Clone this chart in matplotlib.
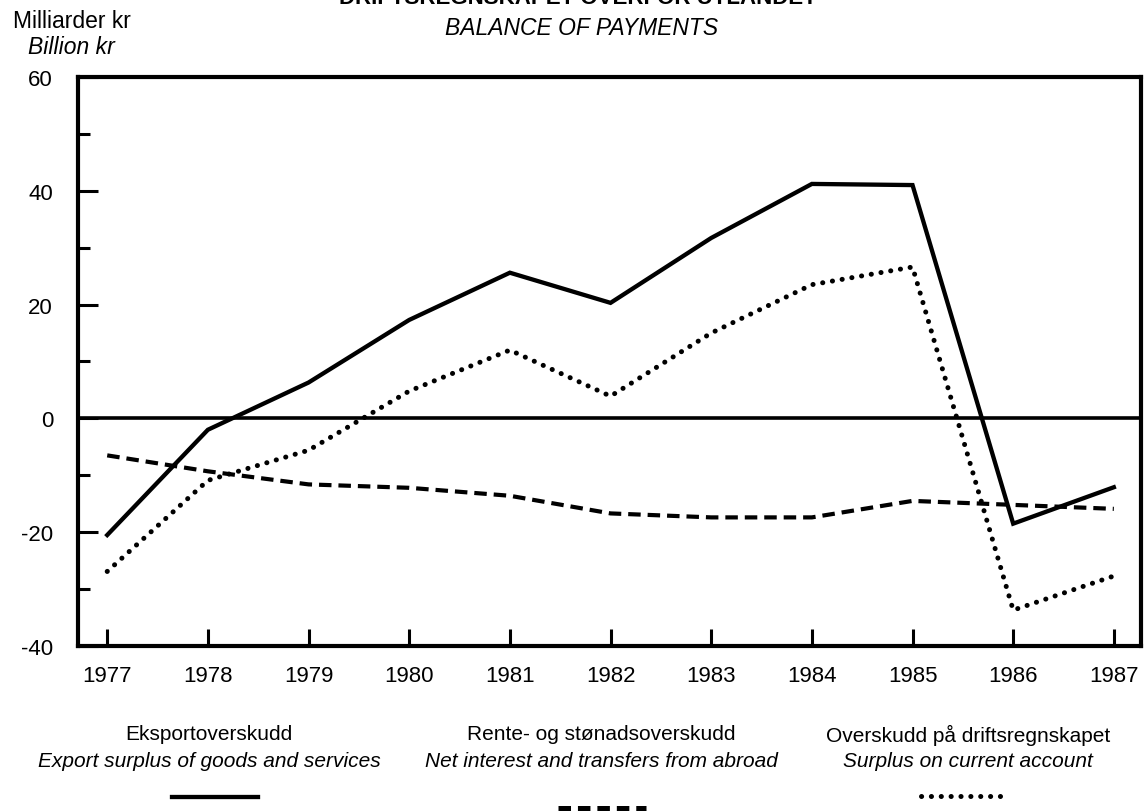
import matplotlib
matplotlib.use("Agg")
import matplotlib.pyplot as plt
from matplotlib.lines import Line2D
from matplotlib.ticker import MultipleLocator

plt.rcParams['font.family'] = ['Liberation Sans', 'DejaVu Sans']
plt.rcParams['lines.scale_dashes'] = False
plt.rcParams['axes.unicode_minus'] = False

# Data (billion NOK)
years = [1977, 1978, 1979, 1980, 1981, 1982, 1983, 1984, 1985, 1986, 1987]
export_surplus = [-20.5, -2.0, 6.3, 17.3, 25.6, 20.3, 31.7, 41.2, 41.0, -18.5, -12.1]
interest_transfers = [-6.5, -9.3, -11.6, -12.2, -13.6, -16.7, -17.4, -17.4, -14.5, -15.2, -15.9]
current_account = [-26.9, -10.9, -5.6, 4.8, 12.0, 3.9, 15.0, 23.5, 26.6, -33.7, -27.7]

legend_no = ["Eksportoverskudd", "Rente- og stønadsoverskudd", "Overskudd på driftsregnskapet"]
legend_en = ["Export surplus of goods and services", "Net interest and transfers from abroad",
             "Surplus on current account"]

fig = plt.figure(figsize=(11.44, 8.12), dpi=100)
ax = fig.add_axes([0.0682, 0.2032, 0.9292, 0.7008])

solid_style = dict(color='black', lw=3.1, solid_joinstyle='miter')
dash_style = dict(color='black', lw=3.0, linestyle=(0, (9.0, 5.0)))
dot_style = dict(color='black', lw=3.6, linestyle=(0, (0.1, 7.0)), dash_capstyle='round')

ax.axhline(0, color='black', lw=2.6, zorder=1)
ax.plot(years, export_surplus, **solid_style)
ax.plot(years, interest_transfers, **dash_style)
ax.plot(years, current_account, **dot_style)

ax.set_xlim(1976.71, 1987.27)
ax.set_ylim(-40, 60)
ax.set_xticks(years)
ax.set_yticks([-40, -20, 0, 20, 40, 60])
ax.yaxis.set_minor_locator(MultipleLocator(10))

for s in ax.spines.values():
    s.set_linewidth(3.0)

ax.tick_params(axis='x', direction='in', length=12.5, width=2.2, pad=14, labelsize=16)
ax.tick_params(axis='y', which='major', direction='in', length=14.5, width=2.2, pad=18, labelsize=16)
ax.tick_params(axis='y', which='minor', direction='in', length=8.5, width=2.2)
# no tick marks on the frame ends
for t in ax.yaxis.get_major_ticks():
    if t.get_loc() in (-40, 60):
        t.tick1line.set_visible(False)

# header texts
fig.text(0.505, 0.9945, "DRIFTSREGNSKAPET OVERFOR UTLANDET", ha='center', va='baseline',
         fontsize=16, fontweight='bold')
fig.text(0.508, 0.965, "BALANCE OF PAYMENTS", ha='center', va='center', fontsize=16.5, style='italic')
fig.text(0.0115, 0.973, "Milliarder kr", ha='left', va='center', fontsize=16.5)
fig.text(0.0245, 0.941, "Billion kr", ha='left', va='center', fontsize=16.5, style='italic')

# legend block
col_x = [209 / 1144, 601 / 1144, 968 / 1144]
for i in range(3):
    fig.text(col_x[i], 1 - 735 / 812, legend_no[i], ha='center', va='center', fontsize=15)
    fig.text(col_x[i], 1 - 762 / 812, legend_en[i], ha='center', va='center', fontsize=15, style='italic')

samples = [
    ((172, 258), 798, solid_style),
    ((558, 646), 809, dict(dash_style, lw=3.6)),
    ((921, 1009), 797, dot_style),
]
for (x0, x1), y, st in samples:
    fig.add_artist(Line2D([x0 / 1144, x1 / 1144], [1 - y / 812, 1 - y / 812],
                          transform=fig.transFigure, **st))

fig.savefig("out.png", dpi=100)
